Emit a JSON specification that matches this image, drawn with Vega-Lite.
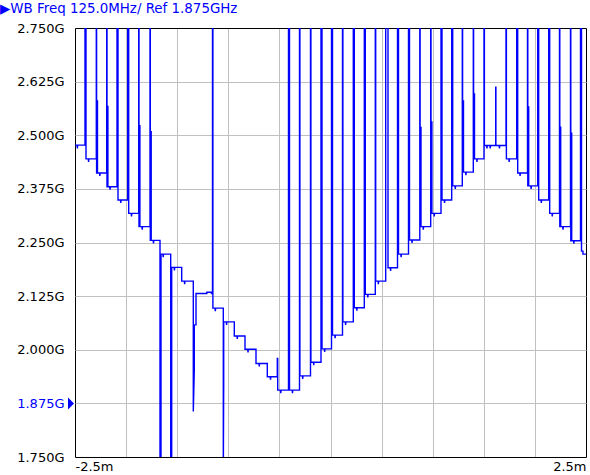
{
  "$schema": "https://vega.github.io/schema/vega-lite/v6.json",
  "width": 511,
  "height": 429,
  "autosize": {"type": "none"},
  "padding": {"left": 75, "top": 28, "right": 4, "bottom": 18},
  "background": "white",
  "config": {"view": {"stroke": null}},
  "title": {"text": "▶WB Freq 125.0MHz/ Ref 1.875GHz", "anchor": "start", "frame": "group", "color": "#0000ff", "font": "DejaVu Sans", "fontSize": 13.4, "fontWeight": "normal", "baseline": "alphabetic", "dx": -75, "offset": -4},
  "datasets": {
    "trace": [
      {"x":-2.5,"y":2.477},{"x":-2.48,"y":2.477},{"x":-2.477,"y":2.469},{"x":-2.474,"y":2.477},
      {"x":-2.4022,"y":2.477},{"x":-2.4022,"y":2.8},{"x":-2.3924,"y":2.8},{"x":-2.3924,"y":2.445},
      {"x":-2.37,"y":2.445},{"x":-2.367,"y":2.438},{"x":-2.364,"y":2.445},
      {"x":-2.2916,"y":2.445},{"x":-2.2916,"y":2.8},{"x":-2.2887,"y":2.8},{"x":-2.2887,"y":2.412},{"x":-2.2818,"y":2.412},{"x":-2.2818,"y":2.58},{"x":-2.2799,"y":2.58},{"x":-2.2799,"y":2.412},
      {"x":-2.26,"y":2.412},{"x":-2.257,"y":2.405},{"x":-2.254,"y":2.412},
      {"x":-2.1898,"y":2.412},{"x":-2.1898,"y":2.8},{"x":-2.1869,"y":2.8},{"x":-2.1869,"y":2.38},{"x":-2.18,"y":2.38},{"x":-2.18,"y":2.567},{"x":-2.1781,"y":2.567},{"x":-2.1781,"y":2.38},
      {"x":-2.16,"y":2.38},{"x":-2.157,"y":2.373},{"x":-2.154,"y":2.38},
      {"x":-2.089,"y":2.38},{"x":-2.089,"y":2.8},{"x":-2.0792,"y":2.8},{"x":-2.0792,"y":2.349},
      {"x":-2.055,"y":2.349},{"x":-2.052,"y":2.342},{"x":-2.049,"y":2.349},
      {"x":-1.9843,"y":2.349},{"x":-1.9843,"y":2.8},{"x":-1.9745,"y":2.8},{"x":-1.9745,"y":2.318},
      {"x":-1.95,"y":2.318},{"x":-1.947,"y":2.311},{"x":-1.944,"y":2.318},
      {"x":-1.8767,"y":2.318},{"x":-1.8767,"y":2.8},{"x":-1.8738,"y":2.8},{"x":-1.8738,"y":2.287},{"x":-1.8669,"y":2.287},{"x":-1.8669,"y":2.522},{"x":-1.865,"y":2.522},{"x":-1.865,"y":2.287},
      {"x":-1.845,"y":2.287},{"x":-1.842,"y":2.28},{"x":-1.839,"y":2.287},
      {"x":-1.7661,"y":2.287},{"x":-1.7661,"y":2.8},{"x":-1.7632,"y":2.8},{"x":-1.7632,"y":2.255},{"x":-1.7563,"y":2.255},{"x":-1.7563,"y":2.508},{"x":-1.7544,"y":2.508},{"x":-1.7544,"y":2.255},
      {"x":-1.735,"y":2.255},{"x":-1.732,"y":2.248},{"x":-1.729,"y":2.255},
      {"x":-1.6683,"y":2.255},{"x":-1.6683,"y":1.7},{"x":-1.6585,"y":1.7},{"x":-1.6585,"y":2.223},
      {"x":-1.64,"y":2.223},{"x":-1.637,"y":2.216},{"x":-1.634,"y":2.223},
      {"x":-1.5636,"y":2.223},{"x":-1.5636,"y":1.7},{"x":-1.5538,"y":1.7},{"x":-1.5538,"y":2.192},
      {"x":-1.53,"y":2.192},{"x":-1.527,"y":2.185},{"x":-1.524,"y":2.192},
      {"x":-1.456,"y":2.192},{"x":-1.456,"y":2.16},
      {"x":-1.43,"y":2.16},{"x":-1.427,"y":2.153},{"x":-1.424,"y":2.16},
      {"x":-1.3425,"y":2.16},{"x":-1.3425,"y":1.856},{"x":-1.3327,"y":1.953},{"x":-1.3327,"y":2.058},{"x":-1.316,"y":2.058},{"x":-1.316,"y":2.131},
      {"x":-1.21,"y":2.131},{"x":-1.21,"y":2.134},{"x":-1.165,"y":2.134},{"x":-1.165,"y":2.131},
      {"x":-1.1546,"y":2.131},{"x":-1.1546,"y":2.8},{"x":-1.1507,"y":2.8},{"x":-1.1507,"y":2.097},
      {"x":-1.13,"y":2.097},{"x":-1.127,"y":2.09},{"x":-1.124,"y":2.097},
      {"x":-1.0489,"y":2.097},{"x":-1.0489,"y":1.7},{"x":-1.045,"y":1.918},{"x":-1.045,"y":2.065},
      {"x":-1.02,"y":2.065},{"x":-1.017,"y":2.058},{"x":-1.014,"y":2.065},
      {"x":-0.9413,"y":2.065},{"x":-0.9413,"y":2.032},
      {"x":-0.915,"y":2.032},{"x":-0.912,"y":2.025},{"x":-0.909,"y":2.032},
      {"x":-0.8366,"y":2.032},{"x":-0.8366,"y":2.001},
      {"x":-0.81,"y":2.001},{"x":-0.807,"y":1.994},{"x":-0.804,"y":2.001},
      {"x":-0.729,"y":2.001},{"x":-0.729,"y":1.968},
      {"x":-0.7,"y":1.968},{"x":-0.697,"y":1.961},{"x":-0.694,"y":1.968},
      {"x":-0.6184,"y":1.968},{"x":-0.6184,"y":1.937},
      {"x":-0.59,"y":1.937},{"x":-0.587,"y":1.93},{"x":-0.584,"y":1.937},
      {"x":-0.5205,"y":1.937},{"x":-0.5205,"y":1.98},{"x":-0.5166,"y":1.98},{"x":-0.5166,"y":1.906},
      {"x":-0.49,"y":1.906},{"x":-0.487,"y":1.899},{"x":-0.484,"y":1.906},
      {"x":-0.411,"y":1.906},{"x":-0.411,"y":2.8},{"x":-0.4012,"y":2.8},{"x":-0.4012,"y":1.906},
      {"x":-0.375,"y":1.906},{"x":-0.372,"y":1.899},{"x":-0.369,"y":1.906},
      {"x":-0.3033,"y":1.906},{"x":-0.3033,"y":2.8},{"x":-0.2994,"y":2.8},{"x":-0.2994,"y":1.939},
      {"x":-0.275,"y":1.939},{"x":-0.272,"y":1.932},{"x":-0.269,"y":1.939},
      {"x":-0.1957,"y":1.939},{"x":-0.1957,"y":2.8},{"x":-0.1918,"y":2.8},{"x":-0.1918,"y":1.971},
      {"x":-0.167,"y":1.971},{"x":-0.164,"y":1.964},{"x":-0.161,"y":1.971},
      {"x":-0.093,"y":1.971},{"x":-0.093,"y":2.8},{"x":-0.0832,"y":2.8},{"x":-0.0832,"y":2.002},
      {"x":-0.06,"y":2.002},{"x":-0.057,"y":1.995},{"x":-0.054,"y":2.002},
      {"x":0.0098,"y":2.002},{"x":0.0098,"y":2.8},{"x":0.0196,"y":2.8},{"x":0.0196,"y":2.034},
      {"x":0.042,"y":2.034},{"x":0.045,"y":2.027},{"x":0.048,"y":2.034},
      {"x":0.1174,"y":2.034},{"x":0.1174,"y":2.8},{"x":0.1213,"y":2.8},{"x":0.1213,"y":2.065},
      {"x":0.145,"y":2.065},{"x":0.148,"y":2.058},{"x":0.151,"y":2.065},
      {"x":0.2231,"y":2.065},{"x":0.2231,"y":2.8},{"x":0.2329,"y":2.8},{"x":0.2329,"y":2.098},
      {"x":0.255,"y":2.098},{"x":0.258,"y":2.091},{"x":0.261,"y":2.098},
      {"x":0.3307,"y":2.098},{"x":0.3307,"y":2.8},{"x":0.3405,"y":2.8},{"x":0.3405,"y":2.129},
      {"x":0.362,"y":2.129},{"x":0.365,"y":2.122},{"x":0.368,"y":2.129},
      {"x":0.4383,"y":2.129},{"x":0.4383,"y":2.8},{"x":0.4422,"y":2.8},{"x":0.4422,"y":2.16},
      {"x":0.465,"y":2.16},{"x":0.468,"y":2.153},{"x":0.471,"y":2.16},
      {"x":0.5401,"y":2.16},{"x":0.5401,"y":2.8},{"x":0.5626,"y":2.8},{"x":0.5626,"y":2.191},
      {"x":0.585,"y":2.191},{"x":0.588,"y":2.184},{"x":0.591,"y":2.191},
      {"x":0.6556,"y":2.191},{"x":0.6556,"y":2.8},{"x":0.6654,"y":2.8},{"x":0.6654,"y":2.223},
      {"x":0.688,"y":2.223},{"x":0.691,"y":2.216},{"x":0.694,"y":2.223},
      {"x":0.7632,"y":2.223},{"x":0.7632,"y":2.8},{"x":0.773,"y":2.8},{"x":0.773,"y":2.256},
      {"x":0.795,"y":2.256},{"x":0.798,"y":2.249},{"x":0.801,"y":2.256},
      {"x":0.8738,"y":2.256},{"x":0.8738,"y":2.8},{"x":0.8767,"y":2.8},{"x":0.8767,"y":2.287},{"x":0.8836,"y":2.287},{"x":0.8836,"y":2.518},{"x":0.8855,"y":2.518},{"x":0.8855,"y":2.287},
      {"x":0.905,"y":2.287},{"x":0.908,"y":2.28},{"x":0.911,"y":2.287},
      {"x":0.9804,"y":2.287},{"x":0.9804,"y":2.8},{"x":0.9833,"y":2.8},{"x":0.9833,"y":2.318},{"x":0.9902,"y":2.318},{"x":0.9902,"y":2.531},{"x":0.9921,"y":2.531},{"x":0.9921,"y":2.318},
      {"x":1.012,"y":2.318},{"x":1.015,"y":2.311},{"x":1.018,"y":2.318},
      {"x":1.0812,"y":2.318},{"x":1.0812,"y":2.8},{"x":1.091,"y":2.8},{"x":1.091,"y":2.349},
      {"x":1.113,"y":2.349},{"x":1.116,"y":2.342},{"x":1.119,"y":2.349},
      {"x":1.1859,"y":2.349},{"x":1.1859,"y":2.8},{"x":1.1957,"y":2.8},{"x":1.1957,"y":2.382},
      {"x":1.218,"y":2.382},{"x":1.221,"y":2.375},{"x":1.224,"y":2.382},
      {"x":1.2896,"y":2.382},{"x":1.2896,"y":2.8},{"x":1.2925,"y":2.8},{"x":1.2925,"y":2.414},{"x":1.2994,"y":2.414},{"x":1.2994,"y":2.58},{"x":1.3013,"y":2.58},{"x":1.3013,"y":2.414},
      {"x":1.322,"y":2.414},{"x":1.325,"y":2.407},{"x":1.328,"y":2.414},
      {"x":1.3973,"y":2.414},{"x":1.3973,"y":2.8},{"x":1.4002,"y":2.8},{"x":1.4002,"y":2.445},{"x":1.4071,"y":2.445},{"x":1.4071,"y":2.596},{"x":1.409,"y":2.596},{"x":1.409,"y":2.445},
      {"x":1.43,"y":2.445},{"x":1.433,"y":2.438},{"x":1.436,"y":2.445},
      {"x":1.5019,"y":2.445},{"x":1.5019,"y":2.8},{"x":1.5058,"y":2.8},{"x":1.5058,"y":2.476},
      {"x":1.528,"y":2.476},{"x":1.531,"y":2.469},{"x":1.534,"y":2.476},
      {"x":1.56,"y":2.476},{"x":1.563,"y":2.469},{"x":1.566,"y":2.476},
      {"x":1.6164,"y":2.476},{"x":1.6164,"y":2.612},{"x":1.6184,"y":2.612},{"x":1.6184,"y":2.476},
      {"x":1.65,"y":2.476},{"x":1.653,"y":2.469},{"x":1.656,"y":2.476},
      {"x":1.7172,"y":2.476},{"x":1.7172,"y":2.8},{"x":1.7211,"y":2.8},{"x":1.7211,"y":2.445},
      {"x":1.745,"y":2.445},{"x":1.748,"y":2.438},{"x":1.751,"y":2.445},
      {"x":1.8219,"y":2.445},{"x":1.8219,"y":2.8},{"x":1.8317,"y":2.8},{"x":1.8317,"y":2.412},
      {"x":1.852,"y":2.412},{"x":1.855,"y":2.405},{"x":1.858,"y":2.412},
      {"x":1.9276,"y":2.412},{"x":1.9276,"y":2.8},{"x":1.9305,"y":2.8},{"x":1.9305,"y":2.382},{"x":1.9374,"y":2.382},{"x":1.9374,"y":2.566},{"x":1.9393,"y":2.566},{"x":1.9393,"y":2.382},
      {"x":1.96,"y":2.382},{"x":1.963,"y":2.375},{"x":1.966,"y":2.382},
      {"x":2.0273,"y":2.382},{"x":2.0273,"y":2.8},{"x":2.0371,"y":2.8},{"x":2.0371,"y":2.349},
      {"x":2.06,"y":2.349},{"x":2.063,"y":2.342},{"x":2.066,"y":2.349},
      {"x":2.135,"y":2.349},{"x":2.135,"y":2.8},{"x":2.1448,"y":2.8},{"x":2.1448,"y":2.318},
      {"x":2.167,"y":2.318},{"x":2.17,"y":2.311},{"x":2.173,"y":2.318},
      {"x":2.2407,"y":2.318},{"x":2.2407,"y":2.8},{"x":2.2436,"y":2.8},{"x":2.2436,"y":2.287},{"x":2.2505,"y":2.287},{"x":2.2505,"y":2.519},{"x":2.2524,"y":2.519},{"x":2.2524,"y":2.287},
      {"x":2.272,"y":2.287},{"x":2.275,"y":2.28},{"x":2.278,"y":2.287},
      {"x":2.3483,"y":2.287},{"x":2.3483,"y":2.8},{"x":2.3512,"y":2.8},{"x":2.3512,"y":2.254},{"x":2.3581,"y":2.254},{"x":2.3581,"y":2.505},{"x":2.36,"y":2.505},{"x":2.36,"y":2.254},
      {"x":2.378,"y":2.254},{"x":2.381,"y":2.247},{"x":2.384,"y":2.254},
      {"x":2.4462,"y":2.254},{"x":2.4462,"y":2.8},{"x":2.456,"y":2.8},{"x":2.456,"y":2.23},{"x":2.47,"y":2.23},{"x":2.47,"y":2.223},{"x":2.5,"y":2.223}
    ],
    "marker": [{"x": -2.5, "y": 1.875}]
  },
  "encoding": {
    "x": {
      "field": "x", "type": "quantitative",
      "scale": {"domain": [-2.5, 2.5], "nice": false, "zero": false},
      "axis": {
        "title": null,
        "values": [-2.5, -2, -1.5, -1, -0.5, 0, 0.5, 1, 1.5, 2, 2.5],
        "labelExpr": "datum.value == -2.5 ? '-2.5m' : (datum.value == 2.5 ? '2.5m' : '')",
        "labelFlush": true,
        "labelOverlap": false,
        "ticks": false,
        "domain": false,
        "labelPadding": 3,
        "labelFont": "DejaVu Sans",
        "labelFontSize": 13,
        "labelColor": "black",
        "grid": true,
        "gridColor": {"condition": {"test": "abs(datum.value) == 2.5", "value": "black"}, "value": "#c0c0c0"},
        "gridWidth": 1,
        "gridOpacity": 1
      }
    },
    "y": {
      "field": "y", "type": "quantitative",
      "scale": {"domain": [1.75, 2.75], "nice": false, "zero": false},
      "axis": {
        "title": null,
        "values": [1.75, 1.875, 2, 2.125, 2.25, 2.375, 2.5, 2.625, 2.75],
        "labelExpr": "format(datum.value, '.3f') + 'G'",
        "labelOverlap": false,
        "ticks": false,
        "domain": false,
        "labelPadding": 11,
        "labelFont": "DejaVu Sans",
        "labelFontSize": 13,
        "labelColor": {"condition": {"test": "datum.value == 1.875", "value": "#0000ff"}, "value": "black"},
        "grid": true,
        "gridColor": {"condition": {"test": "datum.value == 1.75 || datum.value == 2.75", "value": "black"}, "value": "#c0c0c0"},
        "gridWidth": 1,
        "gridOpacity": 1
      }
    }
  },
  "layer": [
    {
      "data": {"name": "trace"},
      "mark": {"type": "line", "color": "#0000ff", "strokeWidth": 1.4, "clip": true, "interpolate": "linear"},
      "encoding": {"order": {"value": null}}
    },
    {
      "data": {"name": "marker"},
      "mark": {"type": "point", "shape": "M-1,-1L0,0L-1,1Z", "size": 144, "filled": true, "color": "#0000ff", "opacity": 1, "strokeWidth": 0, "xOffset": -1}
    }
  ]
}
